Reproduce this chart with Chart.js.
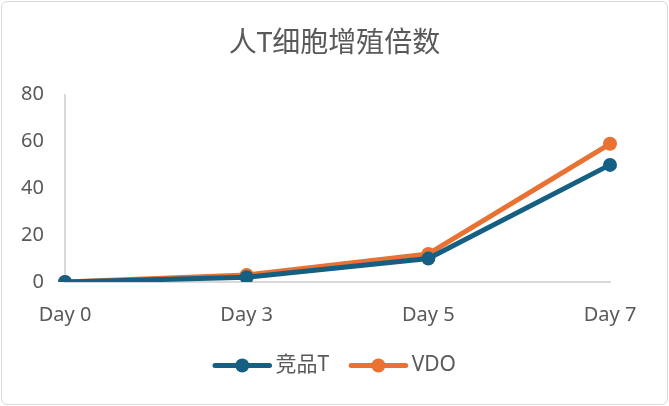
<!DOCTYPE html>
<html lang="zh">
<head>
    <meta charset="UTF-8">
    <title>人T细胞增殖倍数</title>
    <script src="https://cdn.jsdelivr.net/npm/chart.js"></script>
    <style>
        html, body { margin: 0; padding: 0; background: #fff; }
        #wrap { position: relative; width: 669px; height: 406px; }
        #marco {
            position: absolute; left: 1px; top: 1px; right: 1px; bottom: 1px;
            border: 1px solid #d9d9d9; border-radius: 6px;
            pointer-events: none;
        }
    </style>
</head>
<body>
    <div id="wrap">
        <canvas id="grafico"></canvas>
        <div id="marco"></div>
    </div>
    <script>
        // Datos
        const dias = ['Day 0', 'Day 3', 'Day 5', 'Day 7'];
        const competidorT = [0, 2, 10, 50];
        const vdo = [0, 3, 12, 59];
        const tituloTexto = '人T细胞增殖倍数';

        const azul = '#156082';
        const naranja = '#e97132';
        const gris = '#595959';
        const fuente = '"Noto Sans", "Noto Sans CJK SC", sans-serif';
        const tamLeyenda = 21;

        // Línea con punto en la leyenda (el cuadro original queda transparente)
        const puntoLeyenda = {
            id: 'puntoLeyenda',
            afterDraw(chart) {
                const legend = chart.legend;
                if (!legend || !legend.legendHitBoxes) return;
                const ctx = chart.ctx;
                const bw = legend.options.labels.boxWidth;
                legend.legendHitBoxes.forEach((box, i) => {
                    const color = chart.data.datasets[i].borderColor;
                    const x0 = box.left;
                    const x1 = box.left + bw + tamLeyenda / 2 - 4;
                    const y = box.top + box.height / 2;
                    ctx.save();
                    ctx.strokeStyle = color;
                    ctx.lineWidth = 5;
                    ctx.lineCap = 'round';
                    ctx.beginPath();
                    ctx.moveTo(x0 + 2, y);
                    ctx.lineTo(x1 - 2, y);
                    ctx.stroke();
                    ctx.fillStyle = color;
                    ctx.beginPath();
                    ctx.arc((x0 + x1) / 2, y, 7, 0, Math.PI * 2);
                    ctx.fill();
                    ctx.restore();
                });
            }
        };

        function serie(nombre, datos, color) {
            return {
                label: nombre,
                data: datos,
                borderColor: color,
                backgroundColor: color,
                borderWidth: 5,
                pointRadius: 7,
                pointBackgroundColor: color,
                pointBorderWidth: 0,
                tension: 0
            };
        }

        new Chart(document.getElementById('grafico'), {
            type: 'line',
            data: {
                labels: dias,
                datasets: [serie('竞品T', competidorT, azul), serie('VDO', vdo, naranja)]
            },
            options: {
                responsive: true,
                maintainAspectRatio: false,
                animation: false,
                layout: { padding: { left: 0, right: 0, top: 0, bottom: 20 } },
                plugins: {
                    title: {
                        display: true,
                        text: tituloTexto,
                        color: gris,
                        font: { family: fuente, size: 28, weight: 'normal' },
                        padding: { top: 27, bottom: 34 }
                    },
                    legend: {
                        position: 'bottom',
                        labels: {
                            color: gris,
                            font: { family: fuente, size: tamLeyenda },
                            boxWidth: 52,
                            boxHeight: 5,
                            padding: 20,
                            generateLabels(chart) {
                                const items = Chart.defaults.plugins.legend.labels.generateLabels(chart);
                                items.forEach(it => {
                                    it.lineWidth = 0;
                                    it.fillStyle = 'rgba(0,0,0,0)';
                                });
                                return items;
                            }
                        }
                    },
                    tooltip: { enabled: false }
                },
                scales: {
                    x: {
                        offset: false,
                        grid: { display: false },
                        border: { color: '#d9d9d9', width: 2 },
                        ticks: { color: gris, font: { family: fuente, size: 20 }, padding: 13, maxRotation: 0 },
                        afterFit(axis) { axis.height = 53; }
                    },
                    y: {
                        min: 0,
                        max: 80,
                        ticks: { stepSize: 20, color: gris, font: { family: fuente, size: 20 }, padding: 13 },
                        grid: { display: false },
                        border: { color: '#d9d9d9', width: 2 },
                        afterFit(axis) { axis.width = 65; }
                    },
                    margenDerecho: {
                        type: 'linear',
                        position: 'right',
                        min: 0,
                        max: 80,
                        grid: { display: false },
                        border: { display: false },
                        ticks: { display: false },
                        afterFit(axis) { axis.width = 59; }
                    }
                }
            },
            plugins: [puntoLeyenda]
        });
    </script>
</body>
</html>
